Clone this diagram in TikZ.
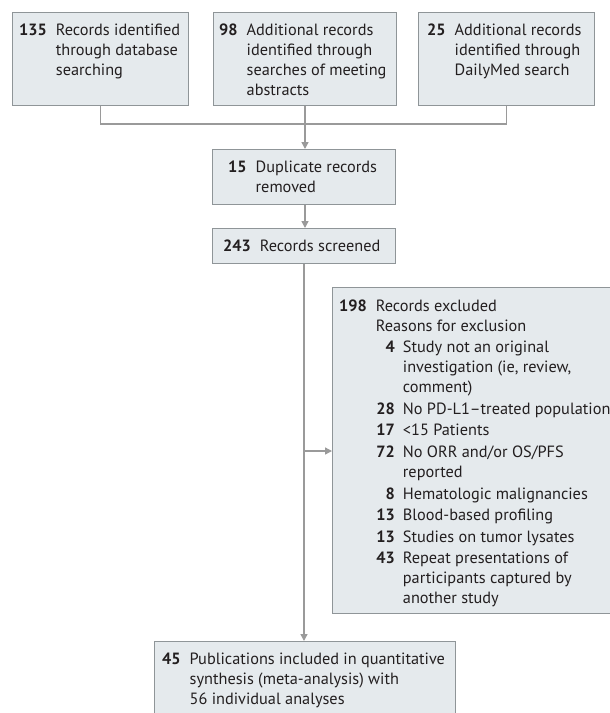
\documentclass[tikz,border=0pt]{standalone}
\usepackage{fontspec}
\setmainfont{PT Sans}
\usetikzlibrary{arrows.meta,calc}
\definecolor{boxfill}{HTML}{E5EAED}
\definecolor{boxline}{HTML}{8F9598}
\definecolor{conline}{HTML}{9A9A9A}
\definecolor{txt}{HTML}{231F20}
\newlength\nw
\newcommand\firstl[2]{\settowidth\nw{\textbf{#1}\hspace{9pt}}\hbox{\textbf{#1}\hspace{9pt}#2}}
\newcommand\nextl[1]{\hbox{\hspace{\nw}#1}}
\newcommand\itemfirst[2]{\vskip1.6pt\hbox{\hspace{\nw}\makebox[19pt][r]{\textbf{#1}}\hspace{8pt}#2}}
\newcommand\itemnext[1]{\hbox{\hspace{\nw}\hspace{27pt}#1}}
\newcommand\blines[1]{\vtop{\baselineskip=20pt\lineskiplimit=-30pt\lineskip=0pt #1}}
\begin{document}
\begin{tikzpicture}[x=1pt,y=-1pt,
  box/.style={draw=boxline,fill=boxfill,line width=1.1pt,anchor=north west,inner sep=0pt},
  txtnode/.style={anchor=base west,inner sep=0pt,text=txt,font=\fontsize{16.3pt}{20pt}\selectfont},
  con/.style={draw=conline,line width=1.4pt},
  arr/.style={con,-{Triangle[length=7pt,width=7pt]}}]
\clip (0,0) rectangle (610,713);
\fill[white] (0,0) rectangle (610,713);
% boxes
\node[box,minimum width=176pt,minimum height=93pt] (b1) at (12,12) {};
\node[box,minimum width=183pt,minimum height=93pt] (b2) at (213,12) {};
\node[box,minimum width=176pt,minimum height=93pt] (b3) at (418,12) {};
\node[box,minimum width=183pt,minimum height=55pt] (b4) at (212,149) {};
\node[box,minimum width=183pt,minimum height=35pt] (b5) at (212,228) {};
\node[box,minimum width=290pt,minimum height=326pt] (b6) at (332,287) {};
\node[box,minimum width=301pt,minimum height=90pt] (b7) at (154,641) {};
% texts
\node[txtnode] (t1) at (19,35) {\blines{\firstl{135}{Records identified}\nextl{through database}\nextl{searching}}};
\node[txtnode] (t2) at (219,35) {\blines{\firstl{98}{Additional records}\nextl{identified through}\nextl{searches of meeting}\nextl{abstracts}}};
\node[txtnode] (t3) at (427,35) {\blines{\firstl{25}{Additional records}\nextl{identified through}\nextl{DailyMed search}}};
\node[txtnode] (t4) at (228,172) {\blines{\firstl{15}{Duplicate records}\nextl{removed}}};
\node[txtnode] (t5) at (223,251) {\blines{\firstl{243}{Records screened}}};
\node[txtnode] (t6) at (339,311) {\blines{\firstl{198}{Records excluded}\nextl{Reasons for exclusion}%
 \itemfirst{4}{Study not an original}\itemnext{investigation (ie, review,}\itemnext{comment)}%
 \itemfirst{28}{No PD-L1–treated population}%
 \itemfirst{17}{<15 Patients}%
 \itemfirst{72}{No ORR and/or OS/PFS}\itemnext{reported}%
 \itemfirst{8}{Hematologic malignancies}%
 \itemfirst{13}{Blood-based profiling}%
 \itemfirst{13}{Studies on tumor lysates}%
 \itemfirst{43}{Repeat presentations of}\itemnext{participants captured by}\itemnext{another study}}};
\node[txtnode] (t7) at (162,664) {\blines{\firstl{45}{Publications included in quantitative}\nextl{synthesis (meta-analysis) with}\nextl{56 individual analyses}}};
% connectors
\coordinate (j1) at (b1.south |- 0,124);
\coordinate (j3) at (b3.south |- 0,124);
\coordinate (jm) at (305,124);
\draw[con] (b1.south) -- (j1) -- (j3) -- (b3.south);
\draw[con] (b2.south -| jm) -- (jm);
\draw[arr] (jm) -- (b4.north -| jm);
\draw[arr] (b4.south -| jm) -- (b5.north -| jm);
\coordinate (br) at (304,451);
\draw[arr] (b5.south -| br) -- (b7.north -| br);
\draw[arr] (br) -- (br -| b6.west);
\end{tikzpicture}
\end{document}
